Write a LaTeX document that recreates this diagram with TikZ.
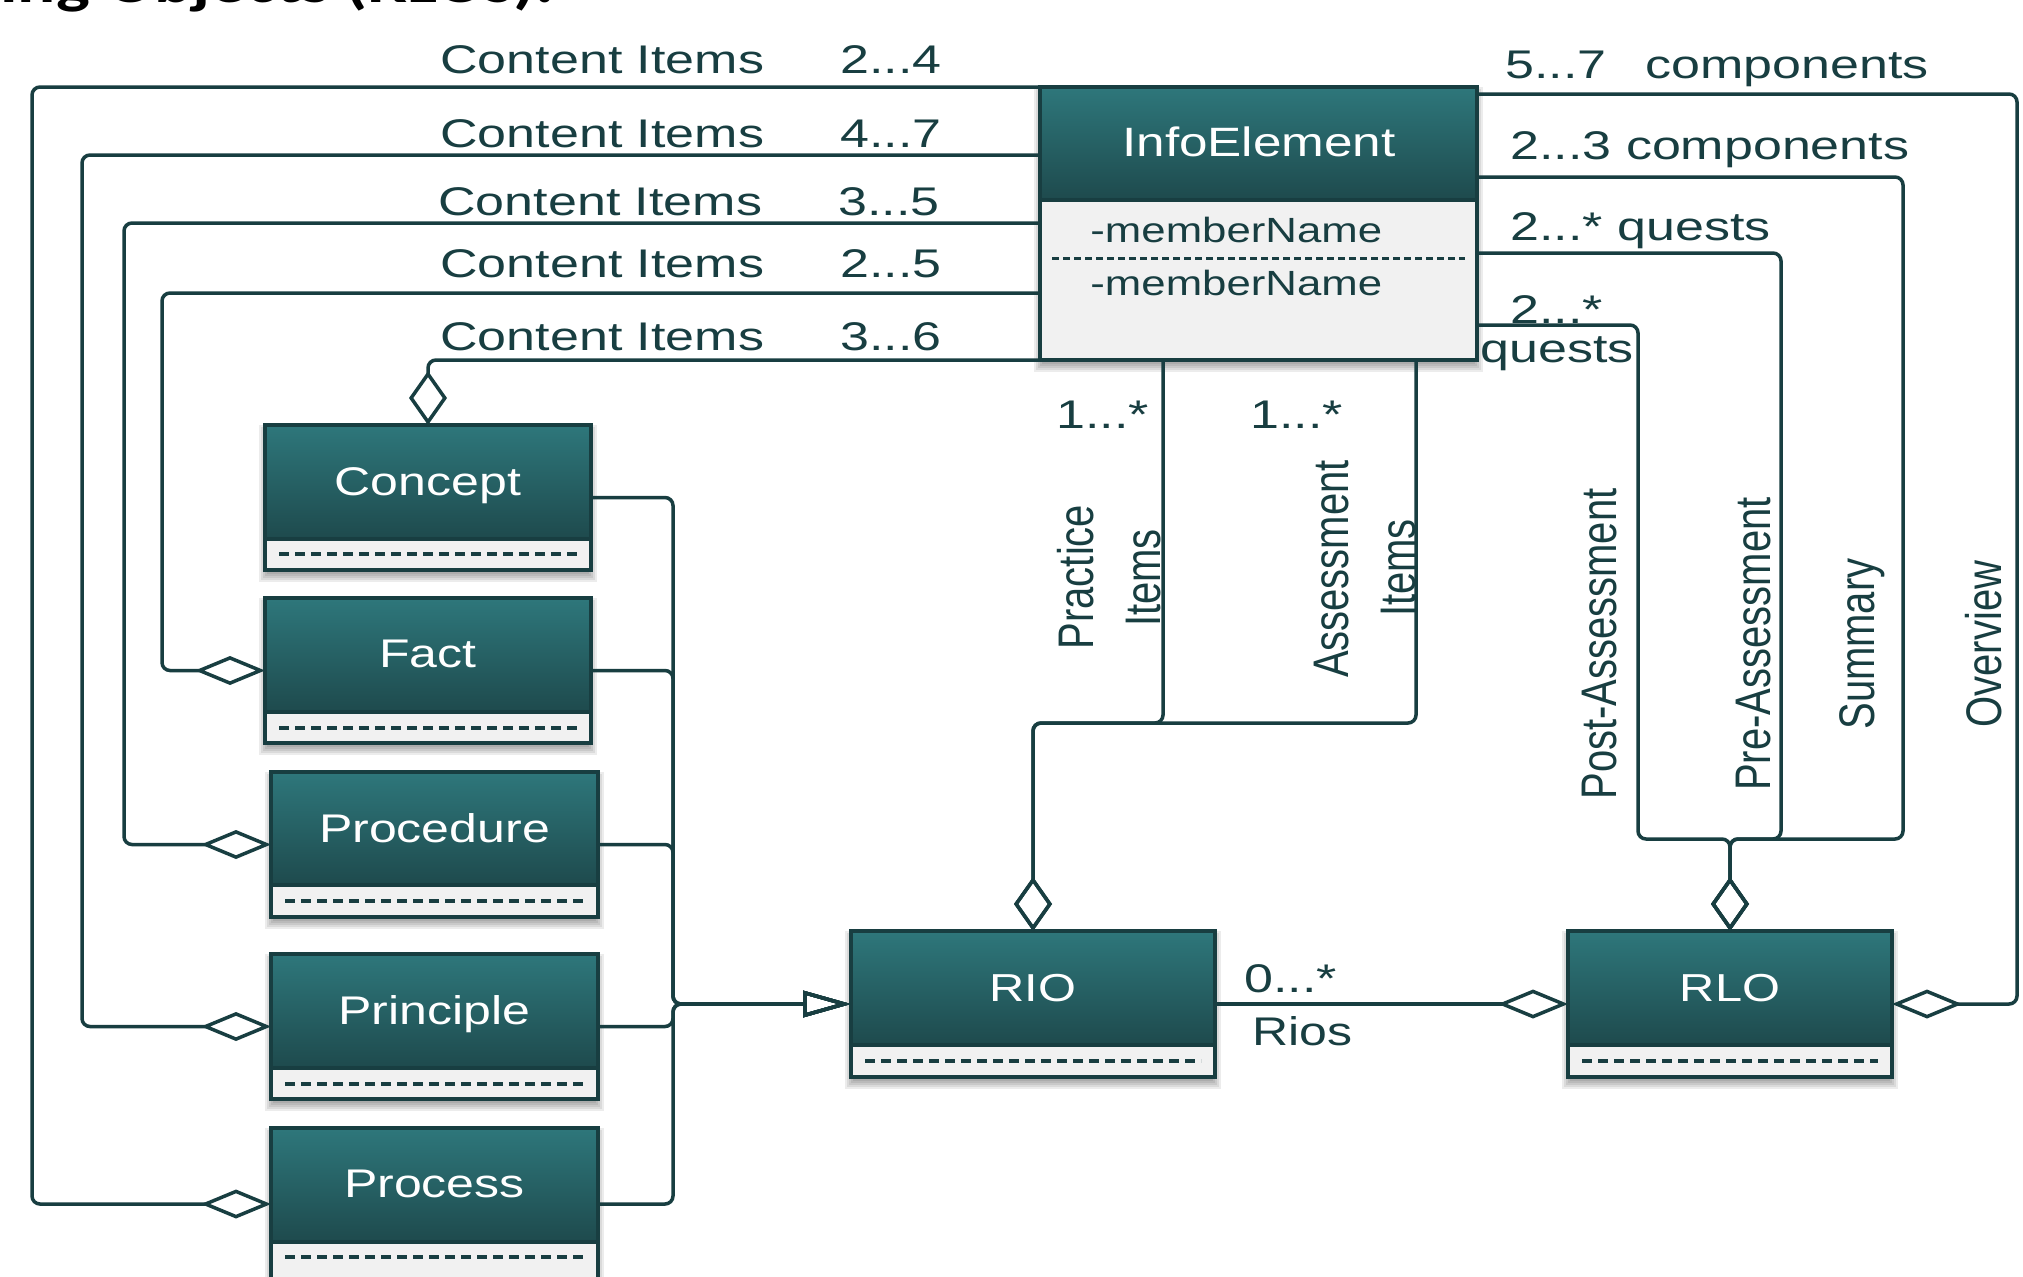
\documentclass[tikz,border=0pt]{standalone}
\usepackage{fontspec}
\setmainfont{Liberation Sans}
\newfontfamily\headfont{Carlito}
\usetikzlibrary{arrows.meta,calc,fit}

\definecolor{ink}{RGB}{24,62,65}
\definecolor{hdtop}{RGB}{46,119,123}
\definecolor{hdbot}{RGB}{30,74,77}
\definecolor{foot}{RGB}{241,241,241}

% horizontally widened text, and text widened across its height for vertical labels
\newcommand\wt[1]{\scalebox{1.25}[1]{#1}}
\newcommand\wl[1]{\scalebox{1.3}[1]{#1}}
\newcommand\vtx[1]{\scalebox{1}[1.25]{#1}}

\tikzset{
  conn/.style={draw=ink, line width=1.75pt, rounded corners=4pt},
  hdiam/.style={-{Diamond[open, length=35pt, width=14.5pt]}},
  vdiam/.style={-{Diamond[open, length=27pt, width=19pt]}},
  gen/.style={-{Triangle[open, length=24pt, width=13pt]}},
  frame/.style={draw=ink, line width=2pt},
  footdash/.style={draw=ink, line width=1.6pt, dash pattern=on 5pt off 3pt},
  iedash/.style={draw=ink, line width=1.5pt, dash pattern=on 3.5pt off 2pt},
  lbl/.style={inner sep=0pt, text=ink, font=\fontsize{20pt}{24pt}\selectfont},
  vlbl/.style={lbl, rotate=90, anchor=base},
  title/.style={inner sep=0pt, text=white, anchor=base, font=\fontsize{20pt}{24pt}\selectfont},
}

% named class frame plus its soft drop shadow
\newcommand\boxnode[5]{%
  \coordinate (#1-nw) at (#2,#3);
  \coordinate (#1-se) at (#4,#5);
  \node[inner sep=0pt, outer sep=0pt, fit=(#1-nw)(#1-se)] (#1) {};
  \foreach \k in {0,...,5}{
    \fill[black, opacity=0.075] (#2-6+2*\k, #3+2*\k) rectangle (#4+6-2*\k, #5+12-2*\k);
  }
}

% header shading, attribute compartment, dashed rule and outline
\newcommand\boxdraw[5]{%
  \shade[top color=hdtop, bottom color=hdbot] (#1.north west) rectangle (#1.east |- 0,#2);
  \fill[foot] (#1.west |- 0,#2) rectangle (#1.south east);
  \draw[#5] ($(#1.west |- 0,#3)+(#4,0)$) -- ($(#1.east |- 0,#3)-(#4,0)$);
  \draw[frame] (#1.west |- 0,#2) -- (#1.east |- 0,#2);
  \draw[frame] (#1.north west) rectangle (#1.south east);
}

\begin{document}
\begin{tikzpicture}[x=0.5pt, y=-0.5pt]
\useasboundingbox (0,0) rectangle (2023,1276);
\fill[white] (0,0) rectangle (2023,1276);

% heading, cut by the top edge
\node[anchor=base west, inner sep=0pt, font=\headfont\bfseries\fontsize{28.5pt}{30pt}\selectfont] (heading) at (0,2) {\wt{ing Objects (RLOs).}};

% class frames
\boxnode{ie}{1040}{87}{1477}{360}
\boxnode{concept}{265}{425}{591}{570}
\boxnode{fact}{265}{598}{591}{743}
\boxnode{proc}{271}{772}{598}{917}
\boxnode{princ}{271}{954}{598}{1099}
\boxnode{procs}{271}{1128}{598}{1280}
\boxnode{rio}{851}{931}{1215}{1077}
\boxnode{rlo}{1568}{931}{1892}{1077}

% content items aggregations
\draw[conn, hdiam] (ie.north west) -- (32,87) |- (procs.west);
\draw[conn, hdiam] (ie.west |- 0,155) -- (82,155) |- (princ.west);
\draw[conn, hdiam] (ie.west |- 0,223) -- (124,223) |- (proc.west);
\draw[conn, hdiam] (ie.west |- 0,293) -- (162,293) |- (fact.west);
\draw[conn, vdiam] (ie.south west) -| (concept.north);

% generalisation bus into RIO
\draw[conn, gen] (concept.east) -- (673,0 |- concept.east) |- (rio.west);
\draw[conn, gen] (fact.east) -- (673,0 |- fact.east) |- (rio.west);
\draw[conn, gen] (proc.east) -- (673,0 |- proc.east) |- (rio.west);
\draw[conn, gen] (princ.east) -- (673,0 |- princ.east) |- (rio.west);
\draw[conn, gen] (procs.east) -- (673,0 |- procs.east) |- (rio.west);

% practice and assessment items
\draw[conn, vdiam] (ie.south -| 1163,0) -- (1163,723) -| (rio.north);
\draw[conn, vdiam] (ie.south -| 1416,0) -- (1416,723) -| (rio.north);

% RLO parts
\draw[conn, hdiam] (ie.east |- 0,94) -- (2017,94) |- (rlo.east);
\draw[conn, vdiam] (ie.east |- 0,177) -| (1903,839) -| (rlo.north);
\draw[conn, vdiam] (ie.east |- 0,253) -| (1781,839) -| (rlo.north);
\draw[conn, vdiam] (ie.east |- 0,325) -| (1638,839) -| (rlo.north);
\draw[conn, hdiam] (rio.east) -- (rlo.west);

% class bodies
\boxdraw{ie}{200}{258}{12}{iedash}
\boxdraw{concept}{539}{554}{14}{footdash}
\boxdraw{fact}{712}{728}{14}{footdash}
\boxdraw{proc}{885}{901}{14}{footdash}
\boxdraw{princ}{1068}{1084}{14}{footdash}
\boxdraw{procs}{1242}{1257}{14}{footdash}
\boxdraw{rio}{1045}{1061}{14}{footdash}
\boxdraw{rlo}{1045}{1061}{14}{footdash}

% class names
\node[title, font=\fontsize{20.5pt}{24pt}\selectfont] (ie-t) at (1259,156) {\wt{InfoElement}};
\node[title] (concept-t) at (428,495) {\wt{Concept}};
\node[title] (fact-t) at (428,667) {\wt{Fact}};
\node[title] (proc-t) at (434.5,842) {\wt{Procedure}};
\node[title] (princ-t) at (434.5,1024) {\wt{Principle}};
\node[title] (procs-t) at (434.5,1197) {\wt{Process}};
\node[title, font=\fontsize{19.5pt}{24pt}\selectfont] (rio-t) at (1033,1001) {\wt{RIO}};
\node[title, font=\fontsize{19.5pt}{24pt}\selectfont] (rlo-t) at (1730,1001) {\wt{RLO}};

% attributes
\node[lbl, anchor=base west, font=\fontsize{17.5pt}{20pt}\selectfont] (attr1) at (1090,242) {\wt{-memberName}};
\node[lbl, anchor=base west, font=\fontsize{17.5pt}{20pt}\selectfont] (attr2) at (1090,295) {\wt{-memberName}};

% role names and multiplicities, left
\node[lbl, anchor=base west] (ci1) at (440,73) {\wl{Content Items}};
\node[lbl, anchor=base west] (ci2) at (440,147) {\wl{Content Items}};
\node[lbl, anchor=base west] (ci3) at (438,215) {\wl{Content Items}};
\node[lbl, anchor=base west] (ci4) at (440,277) {\wl{Content Items}};
\node[lbl, anchor=base west] (ci5) at (440,350) {\wl{Content Items}};
\node[lbl, anchor=base west] (m1) at (840,73) {\wl{2...4}};
\node[lbl, anchor=base west] (m2) at (840,147) {\wl{4...7}};
\node[lbl, anchor=base west] (m3) at (838,215) {\wl{3...5}};
\node[lbl, anchor=base west] (m4) at (840,277) {\wl{2...5}};
\node[lbl, anchor=base west] (m5) at (840,350) {\wl{3...6}};

% role names and multiplicities, right
\node[lbl, anchor=base west] (r1) at (1505,78) {\wl{5...7\hspace{15pt}components}};
\node[lbl, anchor=base west] (r2) at (1510,159) {\wl{2...3 components}};
\node[lbl, anchor=base west] (r3) at (1510,240) {\wl{2...* quests}};
\node[lbl, anchor=base west] (r4a) at (1510,323) {\wl{2...*}};
\node[lbl, anchor=base west] (r4b) at (1480,362) {\wl{quests}};

% item multiplicities
\node[lbl, anchor=base west] (n1) at (1056,428) {\wl{1...*}};
\node[lbl, anchor=base west] (n2) at (1250,428) {\wl{1...*}};
\node[lbl, anchor=base west] (n3) at (1244,992) {\wl{0...*}};
\node[lbl, anchor=base west] (n4) at (1252,1045) {\wt{Rios}};

% vertical role names
\node[vlbl] (pr1) at (1093,577) {\vtx{Practice}};
\node[vlbl] (pr2) at (1160,578) {\vtx{Items}};
\node[vlbl] (as1) at (1348,569) {\vtx{Assessment}};
\node[vlbl] (as2) at (1415,568) {\vtx{Items}};
\node[vlbl] (post) at (1616,644) {\vtx{Post-Assessment}};
\node[vlbl] (pre) at (1770,644) {\vtx{Pre-Assessment}};
\node[vlbl] (summ) at (1874,644) {\vtx{Summary}};
\node[vlbl] (ovw) at (2001,644) {\vtx{Overview}};
\end{tikzpicture}
\end{document}
